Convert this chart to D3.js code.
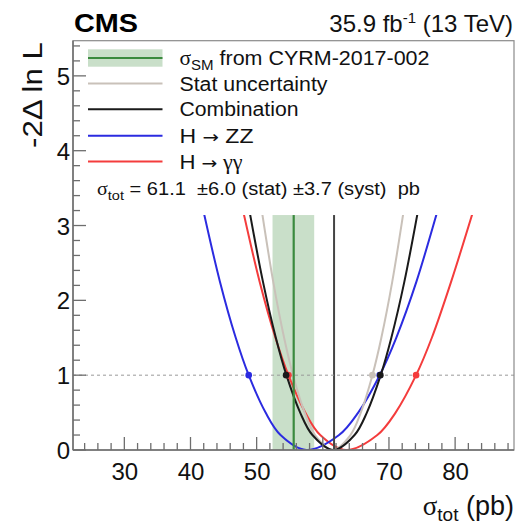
<!DOCTYPE html>
<html><head><meta charset="utf-8">
<script src="https://cdn.jsdelivr.net/npm/d3@7"></script>
<style>body{margin:0;background:#fff}svg{display:block}text{font-family:"Liberation Sans",Arial,Helvetica,sans-serif}.sym{font-family:"Liberation Serif","DejaVu Serif",serif}.arr{font-family:"DejaVu Sans",sans-serif}</style>
</head><body>
<svg id="c" width="515" height="528"></svg>
<script>
// ---- data ----
const dLevels   = [3.3, 2.25, 1.5, 1, 0.5, 0.2, 0, 0.2, 0.5, 1, 1.5, 2.25, 3.3];
const combX     = [48.7, 50.95, 52.9, 54.5, 56.58, 58.43, 61.6, 64.8, 66.66, 68.75, 70.36, 72.33, 74.6];
const statX     = [50.6, 52.5, 54.15, 55.5, 57.26, 58.82, 61.5, 64.18, 65.74, 67.5, 68.85, 70.5, 72.4];
const zzX       = [41.69, 44.45, 46.84, 48.8, 51.35, 53.61, 57.5, 62.46, 65.35, 68.6, 71.1, 74.15, 77.67];
const ggX       = [47.69, 50.45, 52.84, 54.8, 57.35, 59.61, 63.5, 68.24, 71.0, 74.1, 76.48, 79.4, 83.1];
const ggDots    = [54.8, 74.1];
const zzDots    = [48.8, 68.6];
const statDots  = [67.5];
const combDots  = [54.45, 68.7];
const smCentral = 55.6;
const smBand    = [52.4, 58.7];
const bestFit   = 61.7;
const xMajor    = [30, 40, 50, 60, 70, 80];
const yMajor    = [0, 1, 2, 3, 4, 5];
const legendLabels = ["from CYRM-2017-002", "Stat uncertainty", "Combination", "ZZ", "\u03b3\u03b3"];

// ---- layout ----
const L = 73, R = 514, T = 40.7, B = 450;
const x = d3.scaleLinear().domain([22.24, 88.9]).range([L, R]);
const y = d3.scaleLinear().domain([0, 5.47]).range([B, T]);
const svg = d3.select("#c");
const cut = 3.14; // region above is covered by legend

const cGreen = "#3a8a3e", cBand = "#c9dfc9", cStat = "#c9c1b9", cComb = "#1a1a1a", cZZ = "#2b2be0", cGG = "#f43c3c";

svg.append("defs").append("clipPath").attr("id", "pc")
  .append("rect").attr("x", L).attr("y", y(cut)).attr("width", R - L).attr("height", B - y(cut));

const plot = svg.append("g").attr("clip-path", "url(#pc)");
plot.append("rect").attr("x", x(smBand[0])).attr("width", x(smBand[1]) - x(smBand[0]))
  .attr("y", y(cut)).attr("height", B - y(cut)).attr("fill", cBand);
svg.append("line").attr("x1", L).attr("x2", R).attr("y1", y(1)).attr("y2", y(1))
  .attr("stroke", "#999").attr("stroke-width", 1).attr("stroke-dasharray", "3,3");

const line = d3.line().x(d => x(d[0])).y(d => y(d[1])).curve(d3.curveCatmullRom.alpha(0.5));
const curves = [[ggX, cGG], [zzX, cZZ], [statX, cStat], [combX, cComb]];
curves.forEach(([xs, col]) => {
  plot.append("path").attr("d", line(xs.map((v, i) => [v, dLevels[i]])))
    .attr("fill", "none").attr("stroke", col).attr("stroke-width", 2);
});
plot.append("line").attr("x1", x(smCentral)).attr("x2", x(smCentral)).attr("y1", y(cut)).attr("y2", B)
  .attr("stroke", cGreen).attr("stroke-width", 2.2);
plot.append("line").attr("x1", x(bestFit)).attr("x2", x(bestFit)).attr("y1", y(cut)).attr("y2", B)
  .attr("stroke", "#444").attr("stroke-width", 2);
[[ggDots, cGG], [zzDots, cZZ], [statDots, cStat], [combDots, cComb]].forEach(([ds, col]) => {
  svg.selectAll(null).data(ds).enter().append("circle")
    .attr("cx", d => x(d)).attr("cy", y(1)).attr("r", 3.3).attr("fill", col);
});

// frame
const axCol = "#6e6e6e";
svg.append("rect").attr("x", L).attr("y", T).attr("width", R - L).attr("height", B - T)
  .attr("fill", "none").attr("stroke", "#8a8a8a").attr("stroke-width", 1.2);

// x axis ticks
const xMinor = d3.range(24, 89, 2).filter(v => v % 10 !== 0);
const gx = svg.append("g").attr("transform", `translate(0,${B})`)
  .call(d3.axisBottom(x).tickValues(xMajor).tickSize(0).tickPadding(13).tickFormat(d3.format("d")));
gx.select(".domain").remove();
gx.selectAll("text").attr("font-size", 24).attr("fill", "#111").attr("dy", "0.71em");
svg.selectAll(null).data(xMajor).enter().append("line")
  .attr("x1", d => x(d)).attr("x2", d => x(d)).attr("y1", B).attr("y2", B - 13)
  .attr("stroke", axCol).attr("stroke-width", 1.3);
svg.selectAll(null).data(xMinor).enter().append("line")
  .attr("x1", d => x(d)).attr("x2", d => x(d)).attr("y1", B).attr("y2", B - 7)
  .attr("stroke", axCol).attr("stroke-width", 1.3);

// y axis ticks
const yMinor = d3.range(0.2, 5.45, 0.2).filter(v => Math.abs(v - Math.round(v)) > 0.01);
const gy = svg.append("g").attr("transform", `translate(${L},0)`)
  .call(d3.axisLeft(y).tickValues(yMajor).tickSize(0).tickPadding(3).tickFormat(d3.format("d")));
gy.select(".domain").remove();
gy.selectAll("text").attr("font-size", 24).attr("fill", "#111").attr("dy", "0.36em");
svg.selectAll(null).data(yMajor).enter().append("line")
  .attr("x1", L).attr("x2", L + 13).attr("y1", d => y(d)).attr("y2", d => y(d))
  .attr("stroke", axCol).attr("stroke-width", 1.3);
svg.selectAll(null).data(yMinor).enter().append("line")
  .attr("x1", L).attr("x2", L + 7).attr("y1", d => y(d)).attr("y2", d => y(d))
  .attr("stroke", axCol).attr("stroke-width", 1.3);
svg.append("line").attr("x1", L).attr("x2", R).attr("y1", B).attr("y2", B).attr("stroke", axCol).attr("stroke-width", 1.5);
svg.append("line").attr("x1", L).attr("x2", L).attr("y1", T).attr("y2", B).attr("stroke", axCol).attr("stroke-width", 1.5);

// axis titles
svg.append("text").attr("transform", "translate(42,42) rotate(-90)").attr("text-anchor", "end")
  .attr("font-size", 28).attr("fill", "#111").attr("textLength", 106).attr("lengthAdjust", "spacingAndGlyphs")
  .text("-2\u0394 ln L");
const xt = svg.append("text").attr("x", 514).attr("y", 515).attr("text-anchor", "end").attr("font-size", 27).attr("fill", "#111");
xt.append("tspan").attr("class", "sym").text("\u03c3");
xt.append("tspan").attr("font-size", 19).attr("dy", 6).text("tot");
xt.append("tspan").attr("dy", -6).text(" (pb)");

// header
svg.append("text").attr("x", 74).attr("y", 32).attr("font-size", 25).attr("font-weight", "bold")
  .attr("fill", "#000").attr("textLength", 64).attr("lengthAdjust", "spacingAndGlyphs").text("CMS");
const lum = svg.append("text").attr("x", 513).attr("y", 32).attr("text-anchor", "end").attr("font-size", 24).attr("fill", "#111");
lum.append("tspan").text("35.9 fb");
lum.append("tspan").attr("font-size", 15).attr("dy", -9).text("-1");
lum.append("tspan").attr("dy", 9).text(" (13 TeV)");

// legend
const legY = [58, 83.5, 109.3, 135.8, 161.5];
const legCols = [cGreen, cStat, cComb, cZZ, cGG];
svg.append("rect").attr("x", 88).attr("y", 49.3).attr("width", 74.5).attr("height", 17.4).attr("fill", cBand);
legY.forEach((ly, i) => {
  svg.append("line").attr("x1", 88).attr("x2", 162.5).attr("y1", ly).attr("y2", ly)
    .attr("stroke", legCols[i]).attr("stroke-width", 2);
});
const legW = [250, 148, 119, 74, 63];
legY.forEach((ly, i) => {
  const t = svg.append("text").attr("x", 179.5).attr("y", ly + 7).attr("font-size", 20).attr("fill", "#111");
  if (i === 0) {
    t.append("tspan").attr("class", "sym").text("\u03c3");
    t.append("tspan").attr("font-size", 14).attr("dy", 5).text("SM");
    t.append("tspan").attr("dy", -5).text(" " + legendLabels[0]);
  } else if (i >= 3) {
    t.append("tspan").text("H ");
    t.append("tspan").attr("class", "arr").attr("font-size", 17).text("\u2192");
    t.append("tspan").attr("class", i === 4 ? "sym" : null).text(" " + legendLabels[i]);
  } else {
    t.text(legendLabels[i]);
  }
  t.attr("textLength", legW[i]).attr("lengthAdjust", "spacingAndGlyphs");
});
const res = svg.append("text").attr("x", 97).attr("y", 195).attr("font-size", 18).attr("fill", "#111")
  .attr("xml:space", "preserve");
res.append("tspan").attr("class", "sym").text("\u03c3");
res.append("tspan").attr("font-size", 13).attr("dy", 5).text("tot");
res.append("tspan").attr("dy", -5).text(" = 61.1  \u00b16.0 (stat) \u00b13.7 (syst)  pb");
res.attr("textLength", 323).attr("lengthAdjust", "spacingAndGlyphs");
</script>
</body></html>
